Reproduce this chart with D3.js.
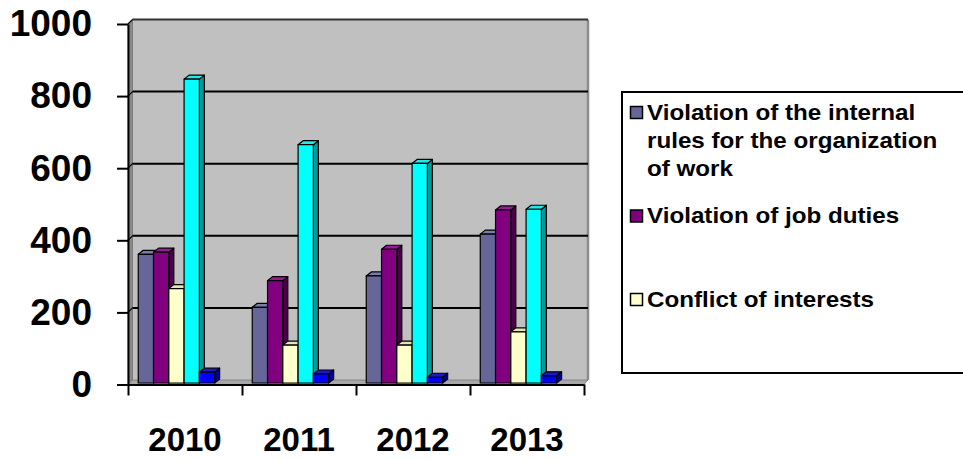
<!DOCTYPE html>
<html>
<head>
<meta charset="utf-8">
<script src="https://cdn.jsdelivr.net/npm/d3@7"></script>
<style>
  html, body { margin: 0; padding: 0; background: #ffffff; }
  svg { display: block; font-family: "Liberation Sans", Arial, sans-serif; }
</style>
</head>
<body>
<svg id="chart" width="963" height="460"></svg>
<script>
// Disciplinary violations by year and type
const years = ["2010", "2011", "2012", "2013"];
const seriesNames = [
  "Violation of the internal rules for the organization of work",
  "Violation of job duties",
  "Conflict of interests",
  "Series 4",
  "Series 5"
];
const internalRules = [357, 210, 297, 413];
const jobDuties     = [363, 284, 371, 480];
const conflict      = [262, 105, 105, 142];
const series4       = [843, 661, 609, 482];
const series5       = [30, 25, 16, 20];
const yTicks = [0, 200, 400, 600, 800, 1000];
const legendLines = [
  ["Violation of the internal", "rules for the organization", "of work"],
  ["Violation of job duties"],
  ["Conflict of interests"]
];

const seriesValues = [internalRules, jobDuties, conflict, series4, series5];
const front = ["#666699", "#800080", "#FFFFCC", "#00FFFF", "#0000FF"];
const topC  = ["#7c7cac", "#9a189a", "#e4e4b4", "#22e8e8", "#1a1acc"];
const sideC = ["#3d3d66", "#4a004a", "#a8a888", "#009a9a", "#00009a"];

const svg = d3.select("#chart");

// plot geometry (front plane) and 3D depth offset
const axisX = 128, axisRight = 584, base = 384.5, topY = 24;
const dx = 4.5, dy = -4.5;

const y = d3.scaleLinear().domain([0, 1000]).range([base, topY]);
const x = d3.scaleBand().domain(years).range([axisX, axisRight]).paddingInner(0).paddingOuter(0);
const bw = x.bandwidth();
const xs = d3.scaleBand().domain(d3.range(seriesValues.length))
  .range([0.09 * bw, 0.76 * bw]).paddingInner(0);

// walls and floor
const g = svg.append("g");
g.append("rect")
  .attr("x", axisX + dx).attr("y", topY + dy)
  .attr("width", axisRight + 4 - axisX - dx).attr("height", base - topY)
  .attr("fill", "#C0C0C0");
g.append("polygon")
  .attr("points", [[axisX, topY], [axisX + dx, topY + dy], [axisX + dx, base + dy], [axisX, base]].join(" "))
  .attr("fill", "#8a8a8a").attr("stroke", "#555").attr("stroke-width", 0.6);
g.append("polygon")
  .attr("points", [[axisX, base], [axisX + dx, base + dy], [axisRight + 4, base + dy], [axisRight, base]].join(" "))
  .attr("fill", "#a8a8a8").attr("stroke", "#666").attr("stroke-width", 0.6);
g.append("line")
  .attr("x1", axisRight + 4).attr("x2", axisRight + 4)
  .attr("y1", topY + dy).attr("y2", base + dy)
  .attr("stroke", "#8c8c8c").attr("stroke-width", 2.5);

// gridlines on the back wall, with their short run across the side wall
yTicks.filter(t => t > 0).forEach(t => {
  const yf = y(t);
  g.append("line")
    .attr("x1", axisX + dx).attr("x2", axisRight + 4)
    .attr("y1", yf + dy).attr("y2", yf + dy)
    .attr("stroke", t === 1000 ? "#333" : "#000").attr("stroke-width", 2);
  g.append("line")
    .attr("x1", axisX).attr("x2", axisX + dx)
    .attr("y1", yf).attr("y2", yf + dy)
    .attr("stroke", "#000").attr("stroke-width", 1.2);
});

// bars: bottom plane sits slightly in from the front edge
const barBase = 383;
const bdx = 5, bdy = -4;
const yb = d3.scaleLinear().domain([0, 1000]).range([barBase, barBase - (base - topY)]);
const bars = svg.append("g");
years.forEach((yr, i) => {
  seriesValues.forEach((vals, s) => {
    const v = vals[i];
    const x0 = x(yr) + xs(s), w = xs.bandwidth();
    const yt = yb(v);
    const gb = bars.append("g").attr("stroke", "#000").attr("stroke-width", 1.2).attr("stroke-linejoin", "round");
    gb.append("polygon")
      .attr("points", [[x0 + w, yt], [x0 + w + bdx, yt + bdy], [x0 + w + bdx, barBase + bdy], [x0 + w, barBase]].join(" "))
      .attr("fill", sideC[s]);
    gb.append("polygon")
      .attr("points", [[x0, yt], [x0 + bdx, yt + bdy], [x0 + w + bdx, yt + bdy], [x0 + w, yt]].join(" "))
      .attr("fill", topC[s]);
    gb.append("rect")
      .attr("x", x0).attr("y", yt).attr("width", w).attr("height", barBase - yt)
      .attr("fill", front[s]);
  });
});

// y axis
const yAxis = svg.append("g").attr("transform", `translate(${axisX},0)`)
  .call(d3.axisLeft(y).tickValues(yTicks).tickFormat(d3.format("d"))
    .tickSize(11).tickPadding(25).tickSizeOuter(0));
yAxis.select(".domain").attr("stroke", "#000").attr("stroke-width", 2);
yAxis.selectAll(".tick line").attr("stroke", "#000").attr("stroke-width", 2);
yAxis.selectAll(".tick text")
  .attr("fill", "#000").attr("font-size", 37).attr("font-weight", "bold")
  .attr("font-family", "Liberation Sans, Arial, sans-serif");

// x axis: baseline with category boundary ticks, labels centred below
const xLin = d3.scaleLinear().domain([0, years.length]).range([axisX, axisRight]);
const xAxisTicks = svg.append("g").attr("transform", `translate(0,${base})`)
  .call(d3.axisBottom(xLin).tickValues(d3.range(years.length + 1)).tickSize(11).tickFormat("").tickSizeOuter(0));
xAxisTicks.select(".domain").attr("stroke", "#000").attr("stroke-width", 2);
xAxisTicks.selectAll(".tick line").attr("stroke", "#000").attr("stroke-width", 2);

const xAxis = svg.append("g").attr("transform", `translate(0,${base})`)
  .call(d3.axisBottom(x).tickSize(0).tickSizeOuter(0));
xAxis.select(".domain").remove();
xAxis.selectAll(".tick text")
  .attr("y", 451 - base).attr("dy", null)
  .attr("fill", "#000").attr("font-size", 33).attr("font-weight", "bold")
  .attr("font-family", "Liberation Sans, Arial, sans-serif");

// legend
const lg = svg.append("g");
lg.append("rect")
  .attr("x", 622).attr("y", 92).attr("width", 360).attr("height", 281)
  .attr("fill", "#fff").attr("stroke", "#000").attr("stroke-width", 2);
const entryBaselines = [120, 223.5, 307];
legendLines.forEach((lines, i) => {
  const b = entryBaselines[i];
  lg.append("rect")
    .attr("x", 630.5).attr("y", b - 13.5).attr("width", 12).attr("height", 12)
    .attr("fill", front[i]).attr("stroke", "#000").attr("stroke-width", 1.5);
  const t = lg.append("text")
    .attr("transform", "translate(647,0) scale(1.1,1)")
    .attr("x", 0).attr("y", b)
    .attr("font-size", 22).attr("font-weight", "bold").attr("fill", "#000");
  lines.forEach((ln, k) => {
    t.append("tspan").attr("x", 0).attr("y", b + k * 28).text(ln);
  });
});
</script>
</body>
</html>
